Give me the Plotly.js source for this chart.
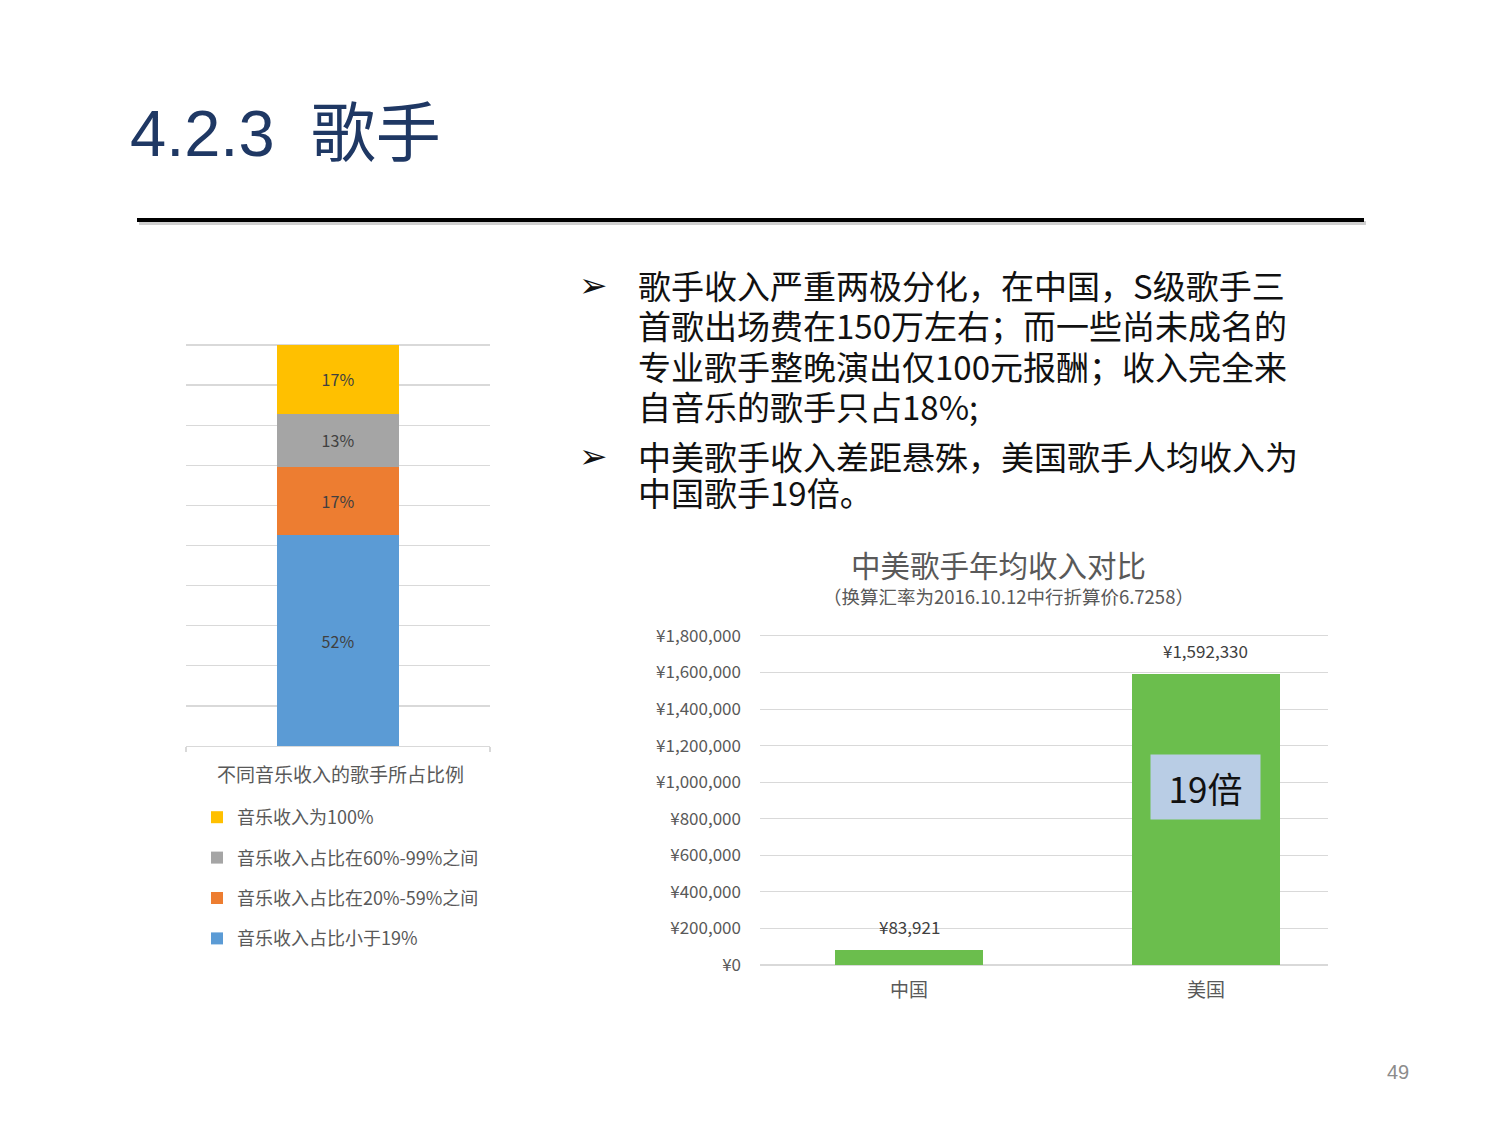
<!DOCTYPE html>
<html>
<head>
<meta charset="utf-8">
<script src="https://cdn.plot.ly/plotly-3.0.1.min.js"></script>
<style>
  html, body { margin: 0; padding: 0; background: #ffffff; }
  #chart { width: 1500px; height: 1125px; }
</style>
</head>
<body>
<div id="chart"></div>
<script>
// ---------- data ----------
const pageTitle = '4.2.3\u00a0\u00a0歌手';
const pageNumber = '49';

const bulletLines1 = [
  '歌手收入严重两极分化，在中国，S级歌手三',
  '首歌出场费在150万左右；而一些尚未成名的',
  '专业歌手整晚演出仅100元报酬；收入完全来',
  '自音乐的歌手只占18%;'
];
const bulletLines2 = [
  '中美歌手收入差距悬殊，美国歌手人均收入为',
  '中国歌手19倍。'
];

const shareCategory = ['比例'];
const shareNames = [
  '音乐收入占比小于19%',
  '音乐收入占比在20%-59%之间',
  '音乐收入占比在60%-99%之间',
  '音乐收入为100%'
];
const shareValues = [52, 17, 13, 17];
const shareLegendTitle = '不同音乐收入的歌手所占比例';

const incomeTitle = '中美歌手年均收入对比';
const incomeSubtitle = '（换算汇率为2016.10.12中行折算价6.7258）';
const incomeCountries = ['中国', '美国'];
const incomeValues = [83921, 1592330];
const ratioLabel = '19倍';

// ---------- styles ----------
const shareColors = ['#5B9BD5', '#ED7D31', '#A5A5A5', '#FFC000'];
const incomeColor = '#6BBE4D';
const W = 1500, H = 1125;
const px = v => v / W;
const py = v => (H - v) / H;
const CJK = '"Noto Sans CJK SC", "Noto Sans", sans-serif';

// ---------- traces ----------
const traces = shareValues.map((v, i) => ({
  type: 'bar',
  x: shareCategory,
  y: [v],
  name: shareNames[i],
  legendgroup: 'g' + i,
  legendrank: shareValues.length - i,
  marker: { color: shareColors[i] },
  width: 0.4,
  text: [v + '%'],
  textposition: 'inside',
  insidetextanchor: 'middle',
  textfont: { size: 16, color: '#404040' },
  hoverinfo: 'skip',
  xaxis: 'x',
  yaxis: 'y'
}));

traces.push({
  type: 'bar',
  x: incomeCountries,
  y: incomeValues,
  marker: { color: incomeColor },
  width: 0.5,
  showlegend: false,
  hoverinfo: 'skip',
  xaxis: 'x2',
  yaxis: 'y2'
});

// ---------- annotations ----------
const annotations = [];
const lineYs1 = [285, 325, 366, 406];
const lineYs2 = [456, 492];
bulletLines1.forEach((t, i) => annotations.push({
  xref: 'paper', yref: 'paper', x: px(636), y: py(lineYs1[i]),
  xanchor: 'left', yanchor: 'middle', showarrow: false, text: t,
  font: { family: CJK, size: 33, color: '#111111' }
}));
bulletLines2.forEach((t, i) => annotations.push({
  xref: 'paper', yref: 'paper', x: px(636), y: py(lineYs2[i]),
  xanchor: 'left', yanchor: 'middle', showarrow: false, text: t,
  font: { family: CJK, size: 33, color: '#111111' }
}));
[285, 456].forEach(y => annotations.push({
  xref: 'paper', yref: 'paper', x: px(593), y: py(y),
  xanchor: 'center', yanchor: 'middle', showarrow: false, text: '➢',
  font: { family: '"DejaVu Sans", sans-serif', size: 34, color: '#111111' }
}));
annotations.push({
  xref: 'paper', yref: 'paper', x: px(215), y: py(773),
  xanchor: 'left', yanchor: 'middle', showarrow: false, text: shareLegendTitle,
  font: { family: CJK, size: 19, color: '#595959' }
});
annotations.push({
  xref: 'paper', yref: 'paper', x: px(998), y: py(564),
  xanchor: 'center', yanchor: 'middle', showarrow: false, text: incomeTitle,
  font: { family: CJK, size: 29.5, color: '#595959' }
});
annotations.push({
  xref: 'paper', yref: 'paper', x: px(1008), y: py(596),
  xanchor: 'center', yanchor: 'middle', showarrow: false, text: incomeSubtitle,
  font: { family: CJK, size: 18.5, color: '#595959' }
});
incomeValues.forEach((v, i) => annotations.push({
  xref: 'x2', yref: 'y2', x: incomeCountries[i], y: v,
  xanchor: 'center', yanchor: 'bottom', yshift: 9, showarrow: false,
  text: '¥' + v.toLocaleString('en-US'),
  font: { family: CJK, size: 17, color: '#404040' }
}));
annotations.push({
  xref: 'x2', yref: 'y2', x: incomeCountries[1], y: 975000,
  xanchor: 'center', yanchor: 'middle', showarrow: false, text: ratioLabel,
  width: 107, height: 62, bgcolor: '#B9CDE5', align: 'center', valign: 'middle',
  font: { family: CJK, size: 35, color: '#111111' }
});
annotations.push({
  xref: 'paper', yref: 'paper', x: px(1398), y: py(1072),
  xanchor: 'center', yanchor: 'middle', showarrow: false, text: pageNumber,
  font: { family: '"Liberation Sans", sans-serif', size: 20, color: '#8C8C8C' }
});

// ---------- layout ----------
const layout = {
  width: W, height: H,
  margin: { l: 0, r: 0, t: 0, b: 0 },
  paper_bgcolor: '#ffffff',
  plot_bgcolor: 'rgba(0,0,0,0)',
  font: { family: CJK, color: '#595959' },
  barmode: 'stack',
  title: {
    text: pageTitle,
    x: px(130), xanchor: 'left', xref: 'paper',
    y: py(133), yanchor: 'middle', yref: 'paper',
    font: { family: '"Liberation Sans", "Noto Sans CJK SC", sans-serif', size: 65, color: '#1F3864' }
  },
  xaxis: {
    domain: [px(186), px(490)],
    range: [-0.5, 0.5],
    showticklabels: false,
    showgrid: false,
    showline: true, linecolor: '#D9D9D9', linewidth: 1.3,
    ticks: 'outside', tickson: 'boundaries', ticklen: 5, tickcolor: '#D9D9D9', tickwidth: 1.3,
    fixedrange: true
  },
  yaxis: {
    domain: [py(746), py(342)],
    range: [0, 99.75],
    tick0: 0, dtick: 9.9,
    showticklabels: false,
    showgrid: true, gridcolor: '#D9D9D9', gridwidth: 1.3,
    zeroline: false,
    fixedrange: true
  },
  xaxis2: {
    domain: [px(760), px(1328)],
    anchor: 'y2',
    range: [-0.502, 1.411],
    showline: false, ticks: '',
    tickfont: { family: CJK, size: 19, color: '#595959' },
    ticklabelstandoff: 12,
    fixedrange: true
  },
  yaxis2: {
    domain: [py(965), py(633)],
    anchor: 'x2',
    range: [0, 1816000],
    dtick: 200000,
    tickprefix: '¥', tickformat: ',d',
    tickfont: { family: CJK, size: 17, color: '#595959' },
    ticklabelstandoff: 18,
    showgrid: true, gridcolor: '#D9D9D9', gridwidth: 1,
    zeroline: true, zerolinecolor: '#D9D9D9', zerolinewidth: 1.3,
    fixedrange: true
  },
  showlegend: true,
  legend: {
    x: px(197), xanchor: 'left',
    y: py(799), yanchor: 'top',
    traceorder: 'grouped',
    tracegroupgap: 14,
    bgcolor: 'rgba(0,0,0,0)',
    font: { family: CJK, size: 18, color: '#595959' }
  },
  shapes: [
    { type: 'line', xref: 'paper', yref: 'paper', x0: px(139), x1: px(1366), y0: py(223), y1: py(223),
      line: { color: '#CFCFCF', width: 4 } },
    { type: 'line', xref: 'paper', yref: 'paper', x0: px(137), x1: px(1364), y0: py(220), y1: py(220),
      line: { color: '#000000', width: 4 } }
  ],
  annotations: annotations
};

Plotly.newPlot('chart', traces, layout, { displayModeBar: false, staticPlot: true });
</script>
</body>
</html>
